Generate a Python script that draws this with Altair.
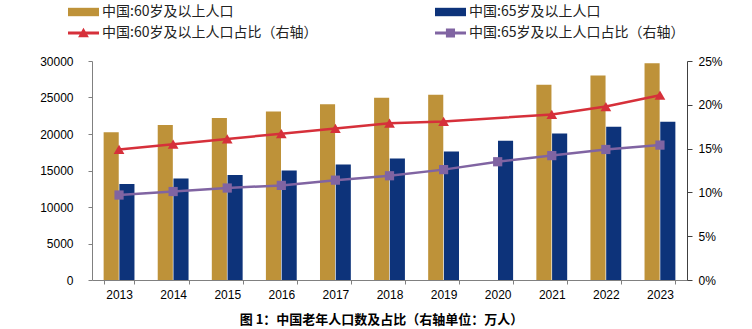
import altair as alt
import pandas as pd

# ---- data ----
years = [2013, 2014, 2015, 2016, 2017, 2018, 2019, 2020, 2021, 2022, 2023]
pop60 = [20243, 21242, 22200, 23086, 24090, 24949, 25388, None, 26736, 28004, 29697]
pop65 = [13161, 13902, 14386, 15003, 15831, 16658, 17603, 19064, 20056, 20978, 21676]
share60 = [14.9, 15.5, 16.1, 16.7, 17.3, 17.9, 18.1, None, 18.9, 19.8, 21.1]
share65 = [9.7, 10.1, 10.5, 10.8, 11.4, 11.9, 12.6, 13.5, 14.2, 14.9, 15.4]

S1 = "中国:60岁及以上人口"
S2 = "中国:65岁及以上人口"
S3 = "中国:60岁及以上人口占比（右轴）"
S4 = "中国:65岁及以上人口占比（右轴）"
ALL = [S1, S2, S3, S4]
COLORS = ["#BE9239", "#0D337A", "#D6303A", "#8064A2"]

left_ticks = [0, 5000, 10000, 15000, 20000, 25000, 30000]
right_ticks = [0, 5, 10, 15, 20, 25]
caption = "图 1：中国老年人口数及占比（右轴单位：万人）"

# legend symbol paths (unit = 7px with symbolSize 196)
RECT = "M-1,-0.6L3.43,-0.6L3.43,0.6L-1,0.6Z"
LINE = "M-1,-0.2L3.43,-0.2L3.43,0.2L-1,0.2Z"
TRI = LINE + " M1.21,-0.75L1.98,0.6L0.44,0.6Z"
SQ = LINE + " M0.56,-0.65L1.86,-0.65L1.86,0.65L0.56,0.65Z"
PATHS = [RECT, RECT, TRI, SQ]

bar_df = pd.DataFrame({
    "year": years * 2,
    "series": [S1] * len(years) + [S2] * len(years),
    "value": pop60 + pop65,
})
line_df = pd.DataFrame({
    "year": years * 2,
    "series": [S3] * len(years) + [S4] * len(years),
    "share": share60 + share65,
})

FONT_NUM = "Liberation Sans"
FONT_CJK = "Noto Sans CJK SC"

X_AXIS = alt.Axis(title=None, labelAngle=0, tickBand="extent", tickSize=4,
                  domainColor="#808080", tickColor="#808080", grid=False,
                  labelFont=FONT_NUM, labelFontSize=12, labelColor="#000000",
                  labelPadding=5)
X_SCALE = alt.Scale(paddingInner=0.43, paddingOuter=0.215)


def xenc():
    return alt.X("year:O", scale=X_SCALE, axis=X_AXIS)


RIGHT_AXIS = alt.Axis(title=None, orient="right", values=right_ticks,
                      labelExpr="datum.value + '%'", grid=False, tickSize=5,
                      labelPadding=6, domainColor="#404040", tickColor="#404040",
                      labelFont=FONT_NUM, labelFontSize=12, labelColor="#000000")


def yright():
    return alt.Y("share:Q", scale=alt.Scale(domain=[0, 25], nice=False), axis=RIGHT_AXIS)


LEG = alt.Legend(title=None)


def cenc():
    return alt.Color("series:N", scale=alt.Scale(domain=ALL, range=COLORS), legend=LEG)


bars = alt.Chart(bar_df).mark_bar(opacity=1).encode(
    x=xenc(),
    xOffset=alt.XOffset("series:N", scale=alt.Scale(domain=[S1, S2], paddingInner=0.04)),
    y=alt.Y("value:Q", scale=alt.Scale(domain=[0, 30000], nice=False),
            axis=alt.Axis(title=None, values=left_ticks, format="d", grid=False,
                          tickSize=4, labelPadding=15, domainColor="#808080",
                          tickColor="#808080", labelFont=FONT_NUM, labelFontSize=12,
                          labelColor="#000000")),
    color=cenc(),
)

base = alt.Chart(line_df).transform_filter("isValid(datum.share)")

lines = base.mark_line(strokeWidth=2.5).encode(x=xenc(), y=yright(), color=cenc())
tri = base.transform_filter(alt.datum.series == S3).mark_point(
    filled=True, shape="triangle-up", size=115, opacity=1, strokeWidth=0
).encode(x=xenc(), y=yright(), color=cenc())
sq = base.transform_filter(alt.datum.series == S4).mark_point(
    filled=True, shape="square", size=85, opacity=1, strokeWidth=0
).encode(x=xenc(), y=yright(), color=cenc())

# legend carrier (draws no marks, defines the legend symbols)
proxy = alt.Chart(line_df).transform_filter("false").mark_point(
    filled=True, size=196, opacity=1
).encode(
    x=xenc(), y=yright(),
    color=cenc(),
    shape=alt.Shape("series:N", scale=alt.Scale(domain=ALL, range=PATHS), legend=LEG),
)

right = alt.layer(lines, tri, sq, proxy)

chart = alt.layer(bars, right).resolve_scale(y="independent").properties(
    width=595,
    height=219,
    autosize=alt.AutoSizeParams(type="none"),
    padding={"left": 92, "top": 61, "right": 65, "bottom": 49},
    title=alt.TitleParams(caption, orient="bottom", anchor="middle", frame="group",
                          font=FONT_CJK, fontSize=13, fontWeight="bold",
                          color="#000000", offset=14, baseline="top", dx=-8),
).configure_view(stroke=None).configure_legend(
    orient="none", legendX=-24, legendY=-56, direction="horizontal", columns=2,
    columnPadding=117, rowPadding=7, symbolSize=196, labelOffset=20,
    labelFont=FONT_CJK, labelFontSize=14, labelColor="#222222", labelLimit=400,
    symbolStrokeWidth=0, padding=0,
)

chart.save("out.html", embed_options={"renderer": "svg", "actions": False})
